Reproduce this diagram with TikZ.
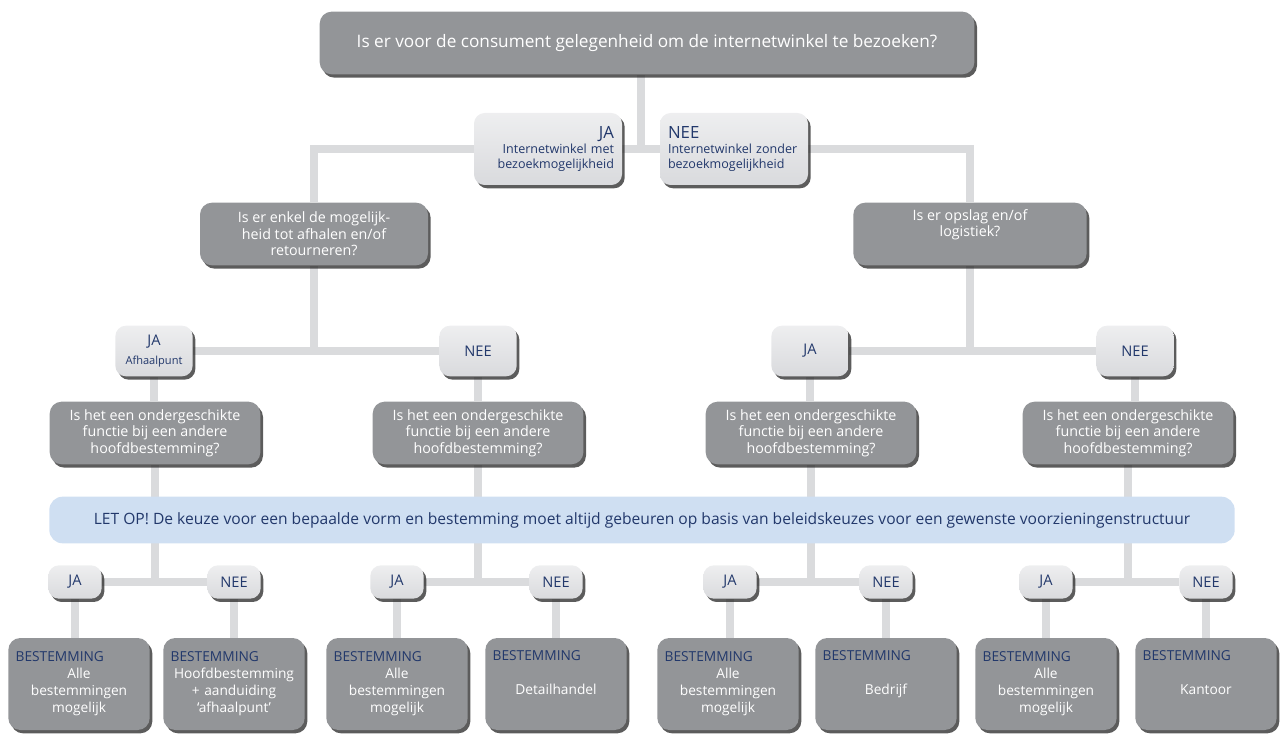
\documentclass[tikz,border=0pt]{standalone}
\usepackage{fontspec}
\setmainfont{Open Sans}
\usetikzlibrary{shadows,backgrounds,calc}
\definecolor{boxgray}{HTML}{939598}
\definecolor{ansgray}{HTML}{D9DADD}
\definecolor{linegray}{HTML}{DADBDD}
\definecolor{navy}{HTML}{22386B}
\definecolor{notice}{HTML}{CFDFF2}
\newcommand{\besthead}{\makebox[\hsize][l]{\color{navy}BESTEMMING}}

\begin{document}
\begin{tikzpicture}[
            x=.75pt, y=-.75pt,
            shade/.style={drop shadow={shadow xshift=2pt, shadow yshift=-2.5pt,
                opacity=.75, fill=black!85}},
            question/.style={shade, fill=boxgray, rounded corners=9pt, text=white,
                align=center, inner sep=2pt,
                font=\fontsize{10.7}{12.4}\selectfont},
            answer/.style={shade, top color=ansgray!45!white, bottom color=ansgray,
                rounded corners=8pt, text=navy,
                align=center, inner sep=2pt, minimum width=40pt, minimum height=25pt,
                font=\fontsize{11}{13}\selectfont},
            bestem/.style={question, minimum width=106pt, minimum height=69pt,
                text width=95pt, font=\fontsize{10.3}{12.75}\selectfont},
            conn/.style={draw=linegray, line width=6pt},
        ]
            \useasboundingbox (0, 0) rectangle (1282, 737);

            %% first question and its two answers
            \node[question, minimum width=491pt, minimum height=47pt,
                font=\fontsize{12.9}{14}\selectfont] (top) at (647, 43)
                {Is er voor de consument gelegenheid om de internetwinkel te bezoeken?};
            \node[answer, minimum width=111pt, minimum height=54pt, text width=99pt,
                align=right, font=\fontsize{9.4}{11}\selectfont] (ja0) at (548, 149)
                {{\fontsize{12.6}{14}\selectfont JA}\\Internetwinkel met\\bezoekmogelijkheid};
            \node[answer, minimum width=111pt, minimum height=54pt, text width=99pt,
                align=left, font=\fontsize{9.4}{11}\selectfont] (nee0) at (734, 149)
                {{\fontsize{12.6}{14}\selectfont NEE}\\Internetwinkel zonder\\bezoekmogelijkheid};
            \coordinate (mid0) at ($(ja0.east)!.5!(nee0.west)$);

            %% second level
            \node[question, minimum width=171pt, minimum height=47pt] (qL) at (314, 234)
                {Is er enkel de mogelijk-\\heid tot afhalen en/of\\retourneren?};
            \node[question, minimum width=175pt, minimum height=47pt] (qR) at (970, 234)
                {Is er opslag en/of\\logistiek?\\\strut};
            \node[answer, minimum width=58pt, minimum height=38pt] (jaL) at (154, 351)
                {JA\\[1pt]{\fontsize{8.3}{9}\selectfont Afhaalpunt}};
            \node[answer, minimum width=58pt, minimum height=38pt] (neeL) at (478, 351) {NEE};
            \node[answer, minimum width=58pt, minimum height=38pt] (jaR) at (810, 351) {JA};
            \node[answer, minimum width=58pt, minimum height=38pt] (neeR) at (1135, 351) {NEE};

            %% remark across the whole width
            \node[fill=notice, rounded corners=10pt, minimum width=889pt,
                minimum height=35pt, text=navy, font=\fontsize{11.7}{13}\selectfont]
                (letop) at (642, 520)
                {LET OP! De keuze voor een bepaalde vorm en bestemming moet altijd gebeuren op basis van beleidskeuzes voor een gewenste voorzieningenstructuur};

            %% four branches down to the bestemming
            \foreach \n/\q/\a/\b/\c/\t in {1/155/75/234/79/{Hoofdbestemming\\+ aanduiding\\‘afhaalpunt’},
                    2/478/397/556/397/{\strut\\Detailhandel\\\strut},
                    3/811/730/886/728/{\strut\\Bedrijf\\\strut},
                    4/1128/1046/1206/1046/{\strut\\Kantoor\\\strut}}{
                \node[question, minimum width=158pt, minimum height=47pt] (q\n) at (\q, 433)
                    {Is het een ondergeschikte\\functie bij een andere\\hoofdbestemming?};
                \node[answer] (ja\n) at (\a, 582) {JA};
                \node[answer] (nee\n) at (\b, 582) {NEE};
                \node[bestem] (ba\n) at (\c, 684) {\besthead\\Alle\\bestemmingen\\mogelijk};
                \node[bestem] (bb\n) at (\b, 684) {\besthead\\\t};
            }

            \begin{scope}[on background layer]
                \draw[conn] (mid0) -- (mid0 |- top.south);
                \draw[conn] (qL.north) |- (ja0) -- (nee0) -| (qR.north);
                \draw[conn] (qL) -- (qL |- jaL);
                \draw[conn] (jaL) -- (neeL);
                \draw[conn] (qR) -- (qR |- jaR);
                \draw[conn] (jaR) -- (neeR);
                \draw[conn] (jaL) -- (jaL |- q1.north);
                \draw[conn] (neeL) -- (neeL |- q2.north);
                \draw[conn] (jaR) -- (jaR |- q3.north);
                \draw[conn] (neeR) -- (neeR |- q4.north);
                \foreach \n in {1,...,4}{
                    \draw[conn] (q\n) -- (q\n |- ja\n);
                    \draw[conn] (ja\n) -- (nee\n);
                    \draw[conn] (ja\n) -- (ja\n |- ba\n.north);
                    \draw[conn] (nee\n) -- (bb\n.north);
                }
            \end{scope}
        \end{tikzpicture}
\end{document}
